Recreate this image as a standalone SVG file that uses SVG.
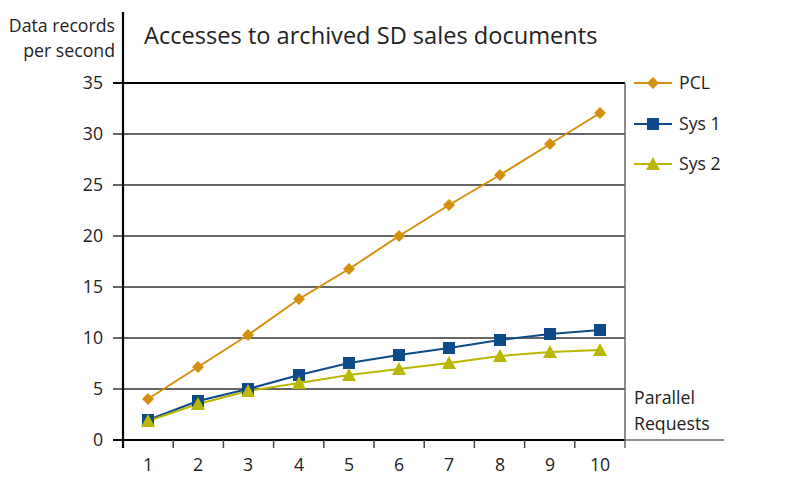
<svg xmlns="http://www.w3.org/2000/svg" width="785" height="488" viewBox="0 0 785 488">
<style>
text{font-family:"Open Sans","Liberation Sans",sans-serif;fill:#222}
.lbl{font-size:17.7px}
.grid{stroke:#333;stroke-width:1.3}
.tick{stroke:#444;stroke-width:1.5}
.pcl{stroke:#D4900C;fill:none;stroke-width:2}
.s1{stroke:#0D4A88;fill:none;stroke-width:2}
.s2{stroke:#B9B700;fill:none;stroke-width:2}
</style>
<defs>
<path id="dia" d="M0,-6 L6,0 L0,6 L-6,0Z" fill="#D4900C"/>
<rect id="sq" x="-6" y="-6" width="12" height="12" fill="#0D4A88"/>
<path id="tri" d="M0,-7 L7,6 L-7,6Z" fill="#B9B700"/>
</defs>
<rect width="785" height="488" fill="#fff"/>
<g id="title"><text x="144" y="44" font-size="23.6">Accesses to archived SD sales documents</text></g>
<g id="ylabel" class="lbl" text-anchor="end"><text x="115" y="32">Data records</text><text x="115" y="57">per second</text></g>
<g id="grid">
<line x1="113" y1="83" x2="625" y2="83" stroke="#000" stroke-width="2"/>
<line class="grid" x1="113" y1="134" x2="625" y2="134"/>
<line class="grid" x1="113" y1="185" x2="625" y2="185"/>
<line class="grid" x1="113" y1="236" x2="625" y2="236"/>
<line class="grid" x1="113" y1="287" x2="625" y2="287"/>
<line class="grid" x1="113" y1="338" x2="625" y2="338"/>
<line class="grid" x1="113" y1="389" x2="625" y2="389"/>
<line x1="113" y1="440" x2="625" y2="440" stroke="#000" stroke-width="2.2"/>
<line x1="625" y1="440" x2="724" y2="440" stroke="#666" stroke-width="1.5"/>
<line x1="625" y1="83" x2="625" y2="448" stroke="#666" stroke-width="1.5"/>
<line x1="123" y1="12" x2="123" y2="448" stroke="#000" stroke-width="2.2"/>
<g class="tick">
<line x1="173.2" y1="440" x2="173.2" y2="448"/><line x1="223.4" y1="440" x2="223.4" y2="448"/><line x1="273.6" y1="440" x2="273.6" y2="448"/><line x1="323.8" y1="440" x2="323.8" y2="448"/><line x1="374" y1="440" x2="374" y2="448"/><line x1="424.2" y1="440" x2="424.2" y2="448"/><line x1="474.4" y1="440" x2="474.4" y2="448"/><line x1="524.6" y1="440" x2="524.6" y2="448"/><line x1="574.8" y1="440" x2="574.8" y2="448"/>
</g>
</g>
<g id="yticks" class="lbl" text-anchor="end">
<text x="103" y="89">35</text><text x="103" y="140">30</text><text x="103" y="191">25</text><text x="103" y="242">20</text><text x="103" y="293">15</text><text x="103" y="344">10</text><text x="103" y="395">5</text><text x="103" y="446">0</text>
</g>
<g id="xticks" class="lbl" text-anchor="middle">
<text x="148" y="471">1</text><text x="198" y="471">2</text><text x="248" y="471">3</text><text x="299" y="471">4</text><text x="349" y="471">5</text><text x="399" y="471">6</text><text x="449" y="471">7</text><text x="500" y="471">8</text><text x="550" y="471">9</text><text x="600" y="471">10</text>
</g>
<g id="xlabel" class="lbl"><text x="634" y="404">Parallel</text><text x="634" y="430">Requests</text></g>
<g id="connectors">
<polyline class="pcl" points="148,399 198,367 248,335 299,299 349,269 399,236 449,205 500,175 550,144 600,113"/>
<polyline class="s1" points="148,420 198,401 248,389 299,375 349,363 399,355 449,348 500,340 550,334 600,330"/>
<polyline class="s2" points="148,421 198,404 248,391 299,383 349,375 399,369 449,363 500,356 550,352 600,350"/>
</g>
<g id="pcl-points">
<use href="#dia" x="148" y="399"/><use href="#dia" x="198" y="367"/><use href="#dia" x="248" y="335"/><use href="#dia" x="299" y="299"/><use href="#dia" x="349" y="269"/><use href="#dia" x="399" y="236"/><use href="#dia" x="449" y="205"/><use href="#dia" x="500" y="175"/><use href="#dia" x="550" y="144"/><use href="#dia" x="600" y="113"/>
</g>
<g id="sys1-points">
<use href="#sq" x="148" y="420"/><use href="#sq" x="198" y="401"/><use href="#sq" x="248" y="389"/><use href="#sq" x="299" y="375"/><use href="#sq" x="349" y="363"/><use href="#sq" x="399" y="355"/><use href="#sq" x="449" y="348"/><use href="#sq" x="500" y="340"/><use href="#sq" x="550" y="334"/><use href="#sq" x="600" y="330"/>
</g>
<g id="sys2-points">
<use href="#tri" x="148" y="421"/><use href="#tri" x="198" y="404"/><use href="#tri" x="248" y="391"/><use href="#tri" x="299" y="383"/><use href="#tri" x="349" y="375"/><use href="#tri" x="399" y="369"/><use href="#tri" x="449" y="363"/><use href="#tri" x="500" y="356"/><use href="#tri" x="550" y="352"/><use href="#tri" x="600" y="350"/>
</g>
<g id="legend" class="lbl">
<line class="pcl" x1="634" y1="83" x2="672" y2="83"/><use href="#dia" x="653" y="83"/><text x="679" y="89">PCL</text>
<line class="s1" x1="634" y1="124" x2="672" y2="124"/><use href="#sq" x="653" y="124"/><text x="679" y="130">Sys 1</text>
<line class="s2" x1="634" y1="164" x2="672" y2="164"/><use href="#tri" x="653" y="164"/><text x="679" y="170">Sys 2</text>
</g>
</svg>
